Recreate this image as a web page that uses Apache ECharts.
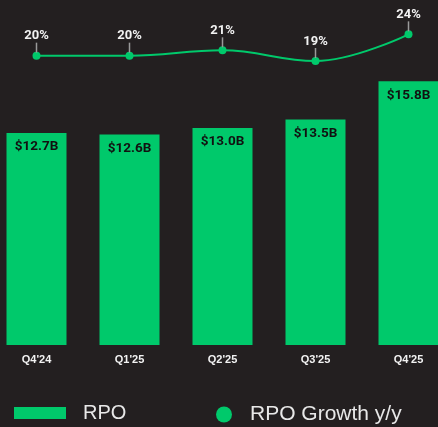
<!DOCTYPE html>
<html><head><meta charset="utf-8">
<script src="https://cdn.jsdelivr.net/npm/echarts@6/dist/echarts.min.js"></script>
<style>html,body{margin:0;padding:0;background:#231f20;}#c{width:438px;height:427px;}</style>
</head><body><div id="c"></div>
<script>
const categories = ["Q4'24", "Q1'25", "Q2'25", "Q3'25", "Q4'25"];
const rpo = [12.7, 12.6, 13.0, 13.5, 15.8];
const growth = [20, 20, 21, 19, 24];
const green = '#00c96b';

const chart = echarts.init(document.getElementById('c'));
chart.setOption({
  backgroundColor: '#231f20',
  animation: false,
  grid: [
    {left: -10, width: 465, top: 11, height: 334, outerBoundsMode: 'none', containLabel: false},
    {left: -10, width: 465, top: 29, height: 80, outerBoundsMode: 'none', containLabel: false}
  ],
  xAxis: [
    {type: 'category', data: categories, gridIndex: 0,
     axisLine: {show: false}, axisTick: {show: false},
     axisLabel: {color: '#f2f2f2', fontFamily: 'Liberation Sans', fontWeight: 'bold', fontSize: 11, margin: 9}},
    {type: 'category', data: categories, gridIndex: 1, show: false}
  ],
  yAxis: [
    {type: 'value', gridIndex: 0, min: 0, max: 20, show: false, splitLine: {show: false}},
    {type: 'value', gridIndex: 1, min: 10, max: 25, show: false, splitLine: {show: false}}
  ],
  legend: [
    {data: ['RPO'], left: 14, top: 403, padding: 0, itemWidth: 52, itemHeight: 12, icon: 'rect',
     textStyle: {color: '#e8e8e8', fontFamily: 'Liberation Sans', fontSize: 20, padding: [0, 0, 0, 12]}},
    {data: ['RPO Growth y/y'], left: 216, top: 404, padding: 0, itemWidth: 16, itemHeight: 16, icon: 'circle',
     textStyle: {color: '#e8e8e8', fontFamily: 'Liberation Sans', fontSize: 21, padding: [0, 0, 0, 13]}}
  ],
  series: [
    {name: 'RPO', type: 'bar', data: rpo, xAxisIndex: 0, yAxisIndex: 0, barWidth: 60,
     itemStyle: {color: green},
     label: {show: true, position: 'insideTop', distance: 7, color: '#111',
       fontFamily: 'Roboto', fontWeight: 'bold', fontSize: 13.5,
       formatter: p => '$' + p.value.toFixed(1) + 'B'}},
    {name: 'RPO Growth y/y', type: 'line', data: growth, xAxisIndex: 1, yAxisIndex: 1,
     smooth: 0.4, symbol: 'circle', symbolSize: 8,
     lineStyle: {color: green, width: 2}, itemStyle: {color: green},
     label: {show: true, position: 'top', distance: -1,
       formatter: p => '{v|' + p.value + '%}\n{l|}',
       rich: {
         v: {color: '#f2f2f2', fontFamily: 'Roboto', fontWeight: 'bold', fontSize: 13, lineHeight: 13, align: 'center'},
         l: {width: 1.5, height: 10, backgroundColor: '#9a9a9a', align: 'center'}
       }}}
  ]
});
</script></body></html>
